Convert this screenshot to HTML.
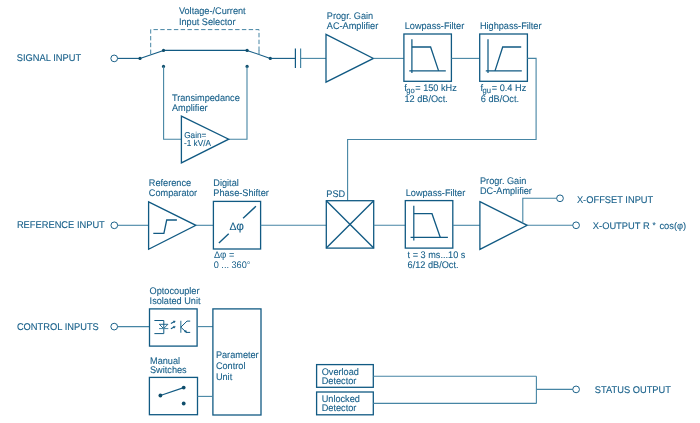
<!DOCTYPE html>
<html><head><meta charset="utf-8"><style>
html,body{margin:0;padding:0;background:#fff;}
svg{display:block;will-change:transform;text-rendering:geometricPrecision;font-family:"Liberation Sans", sans-serif;}
</style></head><body>
<svg width="700" height="423" viewBox="0 0 700 423">
<rect width="700" height="423" fill="#fff"/>
<text transform="translate(16.8,60.8) scale(0.95,1)" font-size="9.8" fill="#18608a" stroke="#18608a" stroke-width="0.1" >SIGNAL INPUT</text>
<line x1="117.3" y1="58.4" x2="140" y2="58.4" stroke="#115a83" stroke-width="1.1" />
<circle cx="114.2" cy="58.4" r="3.35" fill="#fff" stroke="#115a83" stroke-width="0.95"/>
<line x1="140" y1="58.4" x2="163.5" y2="50.4" stroke="#115a83" stroke-width="1.1" />
<line x1="163.5" y1="50.4" x2="247.1" y2="50.4" stroke="#115a83" stroke-width="1.1" />
<line x1="247.1" y1="50.4" x2="270.3" y2="58.4" stroke="#115a83" stroke-width="1.1" />
<circle cx="140" cy="58.4" r="1.6" fill="#0f4d6b"/>
<circle cx="163.5" cy="50.4" r="1.6" fill="#0f4d6b"/>
<circle cx="247.1" cy="50.4" r="1.6" fill="#0f4d6b"/>
<circle cx="270.3" cy="58.4" r="1.6" fill="#0f4d6b"/>
<circle cx="163.5" cy="66.4" r="1.6" fill="#0f4d6b"/>
<circle cx="247.1" cy="66.4" r="1.6" fill="#0f4d6b"/>
<polyline points="150.7,54 150.7,29.6 259,29.6 259,53.6" fill="none" stroke="#4685a4" stroke-width="1" stroke-dasharray="4.4,2.4"/>
<line x1="259" y1="50.5" x2="259" y2="55" stroke="#4685a4" stroke-width="1" />
<text transform="translate(178.9,14.1) scale(0.955,1)" font-size="9.6" fill="#18608a" stroke="#18608a" stroke-width="0.1" >Voltage-/Current</text>
<text transform="translate(178.9,25.1) scale(0.955,1)" font-size="9.6" fill="#18608a" stroke="#18608a" stroke-width="0.1" >Input Selector</text>
<polyline points="163.6,66.4 163.6,139.2 181.4,139.2" fill="none" stroke="#4685a4" stroke-width="1.1" />
<polyline points="228.7,139.2 247,139.2 247,66.4" fill="none" stroke="#4685a4" stroke-width="1.1" />
<polygon points="181.4,116.1 228.7,139.2 181.4,162.9" fill="none" stroke="#115a83" stroke-width="1.3" />
<text transform="translate(171.9,100.8) scale(0.955,1)" font-size="9.6" fill="#18608a" stroke="#18608a" stroke-width="0.1" >Transimpedance</text>
<text transform="translate(171.9,110.8) scale(0.955,1)" font-size="9.6" fill="#18608a" stroke="#18608a" stroke-width="0.1" >Amplifier</text>
<text transform="translate(184.2,138) scale(0.955,1)" font-size="8.6" fill="#18608a" stroke="#18608a" stroke-width="0.1" >Gain=</text>
<text transform="translate(184.0,146.4) scale(0.955,1)" font-size="8.6" fill="#18608a" stroke="#18608a" stroke-width="0.1" >-1 kV/A</text>
<line x1="270.3" y1="58.4" x2="295.4" y2="58.4" stroke="#115a83" stroke-width="1.1" />
<line x1="295.4" y1="48.6" x2="295.4" y2="68.1" stroke="#115a83" stroke-width="1.2" />
<line x1="300.6" y1="48.6" x2="300.6" y2="68.1" stroke="#4685a4" stroke-width="1.2" />
<line x1="300.6" y1="58.4" x2="326" y2="58.4" stroke="#4685a4" stroke-width="1.1" />
<polygon points="326,34.3 373.4,58.4 326,82.1" fill="none" stroke="#115a83" stroke-width="1.3" />
<text transform="translate(326.8,18.5) scale(0.955,1)" font-size="9.6" fill="#18608a" stroke="#18608a" stroke-width="0.1" >Progr. Gain</text>
<text transform="translate(326.8,28.5) scale(0.955,1)" font-size="9.6" fill="#18608a" stroke="#18608a" stroke-width="0.1" >AC-Amplifier</text>
<line x1="373.4" y1="58.4" x2="403.9" y2="58.4" stroke="#4685a4" stroke-width="1.1" />
<rect x="403.9" y="34.0" width="47.5" height="47.3" fill="none" stroke="#115a83" stroke-width="1.3"/>
<line x1="411.9" y1="39.3" x2="411.9" y2="73" stroke="#115a83" stroke-width="1.25" />
<line x1="409.3" y1="70.9" x2="445.8" y2="70.9" stroke="#115a83" stroke-width="1.25" />
<polyline points="411.9,47.0 430.6,47.0 438.6,70.9" fill="none" stroke="#115a83" stroke-width="1.3" />
<text transform="translate(404.7,29.3) scale(0.955,1)" font-size="9.6" fill="#18608a" stroke="#18608a" stroke-width="0.1" >Lowpass-Filter</text>
<text transform="translate(404.3,90.6) scale(0.955,1)" font-size="9.6" fill="#18608a" stroke="#18608a" stroke-width="0.1" >f<tspan font-size="8" dx="-0.6" dy="2.4">go</tspan><tspan dy="-2.4" dx="0.5">= 150 kHz</tspan></text>
<text transform="translate(404.5,102.2) scale(0.955,1)" font-size="9.6" fill="#18608a" stroke="#18608a" stroke-width="0.1" >12 dB/Oct.</text>
<line x1="451.4" y1="58.4" x2="479.7" y2="58.4" stroke="#4685a4" stroke-width="1.1" />
<rect x="479.7" y="34.0" width="47.7" height="47.3" fill="none" stroke="#115a83" stroke-width="1.3"/>
<line x1="488" y1="39.3" x2="488" y2="73" stroke="#115a83" stroke-width="1.25" />
<line x1="485.8" y1="70.9" x2="521.8" y2="70.9" stroke="#115a83" stroke-width="1.25" />
<polyline points="495,70.9 502.7,47.0 521.2,47.0" fill="none" stroke="#115a83" stroke-width="1.3" />
<text transform="translate(479.9,29.3) scale(0.955,1)" font-size="9.6" fill="#18608a" stroke="#18608a" stroke-width="0.1" >Highpass-Filter</text>
<text transform="translate(480.6,90.6) scale(0.955,1)" font-size="9.6" fill="#18608a" stroke="#18608a" stroke-width="0.1" >f<tspan font-size="8" dx="-0.6" dy="2.4">gu</tspan><tspan dy="-2.4" dx="0.8">= 0.4 Hz</tspan></text>
<text transform="translate(480.8,102.2) scale(0.955,1)" font-size="9.6" fill="#18608a" stroke="#18608a" stroke-width="0.1" >6 dB/Oct.</text>
<polyline points="527.4,58.4 536.1,58.4 536.1,139.5 347.6,139.5 347.6,200.7" fill="none" stroke="#4685a4" stroke-width="1.1" />
<text transform="translate(16.9,227.8) scale(0.95,1)" font-size="9.8" fill="#18608a" stroke="#18608a" stroke-width="0.1" >REFERENCE INPUT</text>
<line x1="117.5" y1="225.3" x2="148.6" y2="225.3" stroke="#4685a4" stroke-width="1.1" />
<circle cx="114.3" cy="225.3" r="3.35" fill="#fff" stroke="#115a83" stroke-width="0.95"/>
<polygon points="148.6,201.9 195.9,225.3 148.6,249.3" fill="none" stroke="#115a83" stroke-width="1.3" />
<polyline points="153.3,233.3 163.9,233.3 166.7,220 176.9,220" fill="none" stroke="#115a83" stroke-width="1.3" />
<text transform="translate(148.8,185.8) scale(0.955,1)" font-size="9.6" fill="#18608a" stroke="#18608a" stroke-width="0.1" >Reference</text>
<text transform="translate(148.8,195.8) scale(0.955,1)" font-size="9.6" fill="#18608a" stroke="#18608a" stroke-width="0.1" >Comparator</text>
<line x1="195.9" y1="225.3" x2="213.4" y2="225.3" stroke="#4685a4" stroke-width="1.1" />
<rect x="213.4" y="201.4" width="47.2" height="47.6" fill="none" stroke="#115a83" stroke-width="1.3"/>
<line x1="218.9" y1="243" x2="228.7" y2="233.8" stroke="#115a83" stroke-width="1.4" />
<line x1="243.1" y1="218.2" x2="255.9" y2="206.3" stroke="#115a83" stroke-width="1.4" />
<text transform="translate(236.7,229.6) scale(1.0,1)" font-size="10.4" fill="#18608a" stroke="#18608a" stroke-width="0.1" text-anchor="middle">Δ<tspan font-size="11.8">φ</tspan></text>
<text transform="translate(213.3,185.8) scale(0.955,1)" font-size="9.6" fill="#18608a" stroke="#18608a" stroke-width="0.1" >Digital</text>
<text transform="translate(213.3,195.8) scale(0.955,1)" font-size="9.6" fill="#18608a" stroke="#18608a" stroke-width="0.1" >Phase-Shifter</text>
<text transform="translate(213.9,258.3) scale(0.955,1)" font-size="9.6" fill="#18608a" stroke="#18608a" stroke-width="0" >Δ<tspan font-size="10.2">φ</tspan> =</text>
<text transform="translate(213.7,268.4) scale(0.955,1)" font-size="9.6" fill="#18608a" stroke="#18608a" stroke-width="0" >0 ... 360°</text>
<line x1="260.6" y1="225.3" x2="326.3" y2="225.3" stroke="#4685a4" stroke-width="1.1" />
<rect x="326.3" y="200.7" width="47.4" height="47.4" fill="none" stroke="#115a83" stroke-width="1.3"/>
<line x1="326.3" y1="200.7" x2="373.7" y2="248.1" stroke="#115a83" stroke-width="1.35" />
<line x1="373.7" y1="200.7" x2="326.3" y2="248.1" stroke="#115a83" stroke-width="1.35" />
<text transform="translate(326.3,196.8) scale(0.955,1)" font-size="9.6" fill="#18608a" stroke="#18608a" stroke-width="0.1" >PSD</text>
<line x1="373.7" y1="225.3" x2="405.3" y2="225.3" stroke="#4685a4" stroke-width="1.1" />
<rect x="405.3" y="200.6" width="47.5" height="47.5" fill="none" stroke="#115a83" stroke-width="1.3"/>
<line x1="413.8" y1="205.8" x2="413.8" y2="240.5" stroke="#115a83" stroke-width="1.25" />
<line x1="410.6" y1="237.3" x2="447.9" y2="237.3" stroke="#115a83" stroke-width="1.25" />
<polyline points="413.8,213.7 432.0,213.7 440.2,237.3" fill="none" stroke="#115a83" stroke-width="1.3" />
<text transform="translate(405.7,196.1) scale(0.955,1)" font-size="9.6" fill="#18608a" stroke="#18608a" stroke-width="0.1" >Lowpass-Filter</text>
<text transform="translate(407.6,257.8) scale(0.955,1)" font-size="9.6" fill="#18608a" stroke="#18608a" stroke-width="0.1" >t = 3 ms...10 s</text>
<text transform="translate(407.6,268) scale(0.955,1)" font-size="9.6" fill="#18608a" stroke="#18608a" stroke-width="0.1" >6/12 dB/Oct.</text>
<line x1="452.8" y1="225.3" x2="479.9" y2="225.3" stroke="#4685a4" stroke-width="1.1" />
<polygon points="479.9,201.7 527.2,225.3 479.9,249.4" fill="none" stroke="#115a83" stroke-width="1.3" />
<text transform="translate(480,183.6) scale(0.955,1)" font-size="9.6" fill="#18608a" stroke="#18608a" stroke-width="0.1" >Progr. Gain</text>
<text transform="translate(480,193.6) scale(0.955,1)" font-size="9.6" fill="#18608a" stroke="#18608a" stroke-width="0.1" >DC-Amplifier</text>
<line x1="527.2" y1="225.3" x2="572.9" y2="225.3" stroke="#4685a4" stroke-width="1.1" />
<circle cx="576.1" cy="225.3" r="3.35" fill="#fff" stroke="#115a83" stroke-width="0.95"/>
<polyline points="522.8,222.6 522.8,198.3 556.8,198.3" fill="none" stroke="#4685a4" stroke-width="1.1" />
<circle cx="560" cy="198.3" r="3.35" fill="#fff" stroke="#115a83" stroke-width="0.95"/>
<text transform="translate(576.9,202.7) scale(0.95,1)" font-size="9.8" fill="#18608a" stroke="#18608a" stroke-width="0.1" >X-OFFSET INPUT</text>
<text transform="translate(592.8,228.8) scale(0.972,1)" font-size="9.6" fill="#18608a" stroke="#18608a" stroke-width="0.1" >X-OUTPUT R <tspan font-size="8.5" dx="0.4" dy="-1.2">*</tspan><tspan dy="1.2" dx="1.0"> cos(φ)</tspan></text>
<text transform="translate(16.9,329.8) scale(0.95,1)" font-size="9.8" fill="#18608a" stroke="#18608a" stroke-width="0.1" >CONTROL INPUTS</text>
<line x1="117.4" y1="326.6" x2="149.5" y2="326.6" stroke="#4685a4" stroke-width="1.1" />
<circle cx="114.2" cy="326.6" r="3.35" fill="#fff" stroke="#115a83" stroke-width="0.95"/>
<rect x="149.5" y="308.9" width="47.6" height="37.2" fill="none" stroke="#115a83" stroke-width="1.3"/>
<text transform="translate(149.6,294.3) scale(0.955,1)" font-size="9.6" fill="#18608a" stroke="#18608a" stroke-width="0.1" >Optocoupler</text>
<text transform="translate(149.6,303.8) scale(0.955,1)" font-size="9.6" fill="#18608a" stroke="#18608a" stroke-width="0.1" >Isolated Unit</text>
<polyline points="154.4,320.5 163.8,320.5 163.8,333.6 154.4,333.6" fill="none" stroke="#115a83" stroke-width="1.0" />
<polygon points="159.3,324.3 167.9,324.3 163.6,328.6" fill="none" stroke="#115a83" stroke-width="0.9" />
<line x1="159.0" y1="328.6" x2="168.3" y2="328.6" stroke="#4685a4" stroke-width="1.0" />
<line x1="170.9" y1="323.4" x2="174.2" y2="321.7" stroke="#115a83" stroke-width="1.1" />
<polygon points="173.2,320.9 175.3,321.0 174.4,322.8" fill="#115a83" stroke="#115a83" stroke-width="0.4" />
<line x1="170.9" y1="328.8" x2="174.2" y2="327.1" stroke="#115a83" stroke-width="1.1" />
<polygon points="173.2,326.3 175.3,326.4 174.4,328.2" fill="#115a83" stroke="#115a83" stroke-width="0.4" />
<line x1="180.8" y1="320.8" x2="180.8" y2="332.7" stroke="#4685a4" stroke-width="1.2" />
<polyline points="190.2,321.1 187,321.1 180.8,327.2" fill="none" stroke="#115a83" stroke-width="1.0" />
<polyline points="180.8,327.2 186.5,332.4 190.2,332.4" fill="none" stroke="#115a83" stroke-width="1.0" />
<polygon points="186.9,332.8 184.3,331.7 186.0,330.2" fill="#115a83" stroke="#115a83" stroke-width="0.4" />
<line x1="197.1" y1="326.6" x2="212.9" y2="326.6" stroke="#4685a4" stroke-width="1.1" />
<rect x="212.9" y="308.9" width="48.1" height="106.1" fill="none" stroke="#115a83" stroke-width="1.3"/>
<text transform="translate(215.9,357.8) scale(0.955,1)" font-size="9.6" fill="#18608a" stroke="#18608a" stroke-width="0.1" >Parameter</text>
<text transform="translate(215.9,368.9) scale(0.955,1)" font-size="9.6" fill="#18608a" stroke="#18608a" stroke-width="0.1" >Control</text>
<text transform="translate(215.9,379.6) scale(0.955,1)" font-size="9.6" fill="#18608a" stroke="#18608a" stroke-width="0.1" >Unit</text>
<rect x="149.4" y="377.4" width="48.1" height="37.3" fill="none" stroke="#115a83" stroke-width="1.3"/>
<text transform="translate(150,363.6) scale(0.955,1)" font-size="9.6" fill="#18608a" stroke="#18608a" stroke-width="0.1" >Manual</text>
<text transform="translate(150,372.8) scale(0.955,1)" font-size="9.6" fill="#18608a" stroke="#18608a" stroke-width="0.1" >Switches</text>
<line x1="160.4" y1="395.5" x2="183.7" y2="387.6" stroke="#115a83" stroke-width="1.2" />
<circle cx="160.4" cy="395.5" r="1.9" fill="#0f4d6b"/>
<circle cx="183.7" cy="387.6" r="1.9" fill="#0f4d6b"/>
<circle cx="183.7" cy="403.5" r="1.9" fill="#0f4d6b"/>
<line x1="197.5" y1="396.4" x2="212.9" y2="396.4" stroke="#4685a4" stroke-width="1.1" />
<rect x="316.6" y="364.6" width="56.7" height="22.7" fill="none" stroke="#115a83" stroke-width="1.3"/>
<rect x="316.6" y="392.0" width="56.7" height="22.8" fill="none" stroke="#115a83" stroke-width="1.3"/>
<text transform="translate(321.7,374.6) scale(0.955,1)" font-size="9.6" fill="#18608a" stroke="#18608a" stroke-width="0.1" >Overload</text>
<text transform="translate(321.7,383.7) scale(0.955,1)" font-size="9.6" fill="#18608a" stroke="#18608a" stroke-width="0.1" >Detector</text>
<text transform="translate(321.7,401.7) scale(0.955,1)" font-size="9.6" fill="#18608a" stroke="#18608a" stroke-width="0.1" >Unlocked</text>
<text transform="translate(321.7,410.8) scale(0.955,1)" font-size="9.6" fill="#18608a" stroke="#18608a" stroke-width="0.1" >Detector</text>
<line x1="373.3" y1="376.3" x2="536.4" y2="376.3" stroke="#4685a4" stroke-width="1.1" />
<line x1="373.3" y1="403.4" x2="536.4" y2="403.4" stroke="#4685a4" stroke-width="1.1" />
<line x1="536.4" y1="376.3" x2="536.4" y2="403.4" stroke="#4685a4" stroke-width="1.1" />
<line x1="536.4" y1="389.4" x2="572.8" y2="389.4" stroke="#4685a4" stroke-width="1.1" />
<circle cx="576.1" cy="389.4" r="3.35" fill="#fff" stroke="#115a83" stroke-width="0.95"/>
<text transform="translate(594.8,393.0) scale(0.95,1)" font-size="9.8" fill="#18608a" stroke="#18608a" stroke-width="0.1" >STATUS OUTPUT</text>
</svg></body></html>
